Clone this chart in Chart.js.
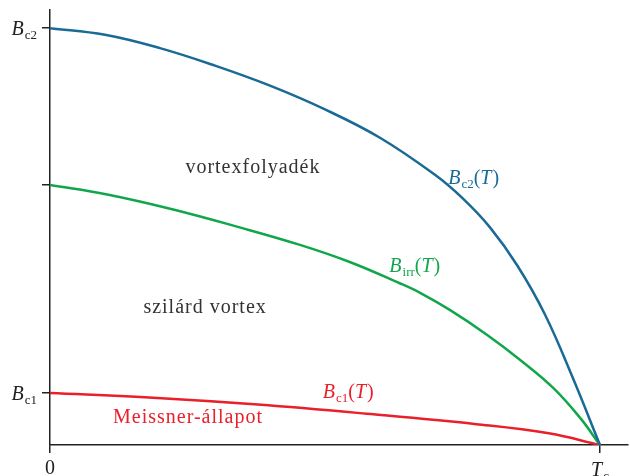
<!DOCTYPE html>
<html>
<head>
<meta charset="utf-8">
<script src="https://cdn.jsdelivr.net/npm/chart.js@4.4.1/dist/chart.umd.min.js"></script>
<style>
  html, body { margin: 0; padding: 0; background: #ffffff; }
  #wrap { width: 630px; height: 476px; position: relative; }
</style>
</head>
<body>
<div id="wrap"><canvas id="c"></canvas></div>
<script>
// ---- data (T / Tc, B / Bc2) ----
const bc2T = [0, 0.1, 0.2, 0.3, 0.4, 0.5, 0.6, 0.7, 0.75, 0.8, 0.85, 0.9, 0.95, 1.0];
const bc2B = [1.0, 0.984, 0.952, 0.910, 0.862, 0.805, 0.737, 0.648, 0.592, 0.522, 0.430, 0.313, 0.163, 0];

const birrT = [0, 0.104, 0.224, 0.345, 0.4545, 0.545, 0.636, 0.673, 0.727, 0.795, 0.855, 0.915, 0.964, 1.0];
const birrB = [0.6235, 0.601, 0.565, 0.522, 0.480, 0.439, 0.388, 0.365, 0.324, 0.264, 0.204, 0.137, 0.065, 0];

const bc1T = [0, 0.18, 0.378, 0.576, 0.775, 0.907, 1.0];
const bc1B = [0.1247, 0.114, 0.097, 0.075, 0.050, 0.028, 0];

const xTickValues = [0, 1];
const yTickValues = [0.1247, 0.6235, 1.0];
// tick labels: parts of rich text [text, italic, subscript]
const xTickLabels = [[["0", false, false]], [["T", true, false], ["c", false, true]]];
const yTickLabels = [[["B", true, false], ["c1", false, true]], null, [["B", true, false], ["c2", false, true]]];

// ---- annotations ----
const annotations = [
  { parts: [["vortexfolyadék", false, false]], x: 0.369, y: 0.667, align: "center", color: "#333333", plain: true },
  { parts: [["szilárd vortex", false, false]], x: 0.282, y: 0.331, align: "center", color: "#333333", plain: true },
  { parts: [["Meissner-állapot", false, false]], x: 0.251, y: 0.066, align: "center", color: "#e8202a", plain: true },
  { parts: [["B", true, false], ["c2", false, true], ["(", false, false], ["T", true, false], [")", false, false]], x: 0.724, y: 0.640, align: "left", color: "#1a6a96" },
  { parts: [["B", true, false], ["irr", false, true], ["(", false, false], ["T", true, false], [")", false, false]], x: 0.617, y: 0.429, align: "left", color: "#12a64c" },
  { parts: [["B", true, false], ["c1", false, true], ["(", false, false], ["T", true, false], [")", false, false]], x: 0.496, y: 0.127, align: "left", color: "#e8202a" }
];

const zip = (xs, ys) => xs.map((x, i) => ({ x: x, y: ys[i] }));

const FONT = '"Liberation Serif", "DejaVu Serif", serif';
const MAIN = 20, SUB = 13, PLAIN = 20;

function fontFor(p, plain) {
  const size = plain ? PLAIN : (p[2] ? SUB : MAIN);
  return (p[1] ? "italic " : "") + size + "px " + FONT;
}
function drawRich(ctx, parts, x, y, align, color, plain) {
  ctx.save();
  ctx.fillStyle = color;
  ctx.textBaseline = "alphabetic";
  ctx.textAlign = "left";
  if (plain && "letterSpacing" in ctx) ctx.letterSpacing = "1px";
  let w = 0;
  parts.forEach(p => { ctx.font = fontFor(p, plain); w += ctx.measureText(p[0]).width + (p[1] ? 1 : 0); });
  let cx = x;
  if (align === "center") cx = x - w / 2;
  else if (align === "right") cx = x - w;
  parts.forEach(p => {
    ctx.font = fontFor(p, plain);
    ctx.fillText(p[0], cx, p[2] ? y + 4 : y);
    cx += ctx.measureText(p[0]).width + (p[1] ? 1 : 0);
  });
  ctx.restore();
}

const labelPlugin = {
  id: "labels",
  afterDraw(chart) {
    const ctx = chart.ctx;
    const xs = chart.scales.x, ys = chart.scales.y;
    yTickValues.forEach((v, i) => {
      if (!yTickLabels[i]) return;
      drawRich(ctx, yTickLabels[i], 37, ys.getPixelForValue(v) + 7, "right", "#222222");
    });
    xTickValues.forEach((v, i) => {
      drawRich(ctx, xTickLabels[i], xs.getPixelForValue(v), 474 + (i === 1 ? 2 : 0), "center", "#222222");
    });
    annotations.forEach(a => {
      drawRich(ctx, a.parts, xs.getPixelForValue(a.x), ys.getPixelForValue(a.y) + 6, a.align, a.color, a.plain);
    });
  }
};

const axisColor = "#222222";
new Chart(document.getElementById("c"), {
  type: "line",
  data: {
    datasets: [
      { data: zip(bc2T, bc2B), borderColor: "#1a6a96", borderWidth: 2.5 },
      { data: zip(birrT, birrB), borderColor: "#12a64c", borderWidth: 2.5 },
      { data: zip(bc1T, bc1B), borderColor: "#e8202a", borderWidth: 2.5 }
    ]
  },
  options: {
    responsive: true,
    maintainAspectRatio: false,
    animation: false,
    layout: { padding: { top: 10, right: 2, left: 0, bottom: 0 } },
    elements: { point: { radius: 0 }, line: { tension: 0.4, cubicInterpolationMode: "default", fill: false } },
    plugins: { legend: { display: false }, tooltip: { enabled: false } },
    scales: {
      x: {
        type: "linear", min: 0, max: 1.051,
        afterBuildTicks: s => { s.ticks = xTickValues.map(v => ({ value: v })); },
        afterFit: s => { s.height = 31; },
        ticks: { callback: () => "", autoSkip: false, maxRotation: 0 },
        grid: { drawOnChartArea: false, drawTicks: true, tickLength: 8, color: axisColor, lineWidth: 1.5 },
        border: { display: true, color: axisColor, width: 1.5 }
      },
      y: {
        type: "linear", min: 0, max: 1.043,
        afterBuildTicks: s => { s.ticks = yTickValues.map(v => ({ value: v })); },
        afterFit: s => { s.width = 50; },
        ticks: { callback: () => "", autoSkip: false },
        grid: { drawOnChartArea: false, drawTicks: true, tickLength: 8, color: axisColor, lineWidth: 1.5 },
        border: { display: true, color: axisColor, width: 1.5 }
      }
    }
  },
  plugins: [labelPlugin]
});
</script>
</body>
</html>
